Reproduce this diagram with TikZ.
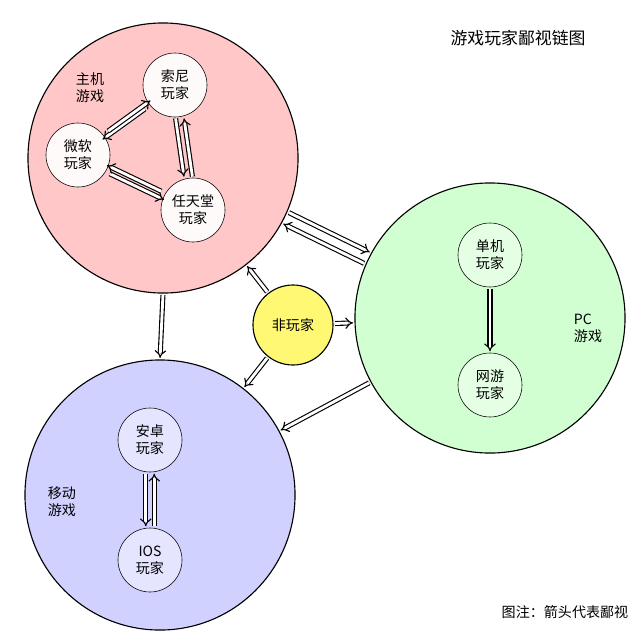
\documentclass[tikz,border=0pt]{standalone}
\usepackage{fontspec}
\setmainfont{Noto Sans CJK SC}
\usetikzlibrary{arrows.meta}
\tikzset{
  big/.style={circle, draw=black, thick, minimum size=6.75cm},
  small/.style={circle, draw=black, fill=white!92!pink, minimum size=1.6cm, inner sep=0pt, align=center},
  dbl/.style={draw=black, double=white, double distance=2pt, thick, -{Implies[length=4pt]}, shorten >=1pt, shorten <=1pt}
}
\begin{document}
\begin{tikzpicture}[x=0.025cm, y=-0.025cm]
\useasboundingbox (0,0) rectangle (640,640);
\node[big, fill=red!22] (zhuji) at (163,158) {};
\node[big, fill=green!18] (pc) at (490,318) {};
\node[big, fill=blue!18] (yidong) at (160,495) {};
\node[circle, draw=black, thick, fill=yellow!55, minimum size=2cm] (fei) at (293,325) {非玩家};
% host
\node[small] (suoni) at (175,85) {索尼\\玩家};
\node[small] (weiruan) at (78,155) {微软\\玩家};
\node[small] (rentian) at (193,210) {任天堂\\玩家};
\node[small, fill=white!90!green] (danji) at (490,255) {单机\\玩家};
\node[small, fill=white!90!green] (wangyou) at (490,385) {网游\\玩家};
\node[small, fill=white!90!blue] (anzhuo) at (150,440) {安卓\\玩家};
\node[small, fill=white!90!blue] (ios) at (150,560) {IOS\\玩家};
% labels
\node[align=left] (lzhuji) at (90,88) {主机\\游戏};
\node[align=left] (lpc) at (588,328) {PC\\游戏};
\node[align=left] (lyidong) at (62,502) {移动\\游戏};
\node[font=\large] (title) at (518,38) {游戏玩家鄙视链图};
\node (note) at (565,612) {图注：箭头代表鄙视};
% arrows inside
\draw[dbl, transform canvas={xshift=-2pt, yshift=-3pt}] (suoni) -- (weiruan);
\draw[dbl, transform canvas={xshift=2pt, yshift=3pt}] (weiruan) -- (suoni);
\draw[dbl, transform canvas={xshift=-3pt}] (suoni) -- (rentian);
\draw[dbl, transform canvas={xshift=3pt}] (rentian) -- (suoni);
\draw[dbl, transform canvas={xshift=1pt, yshift=-3pt}] (weiruan) -- (rentian);
\draw[dbl, transform canvas={xshift=-1pt, yshift=3pt}] (rentian) -- (weiruan);
\draw[dbl] (danji) -- (wangyou);
\draw[dbl, transform canvas={xshift=-3pt}] (anzhuo) -- (ios);
\draw[dbl, transform canvas={xshift=3pt}] (ios) -- (anzhuo);
% between groups
\draw[dbl, transform canvas={xshift=-2pt, yshift=-4pt}] (pc) -- (zhuji);
\draw[dbl, transform canvas={xshift=2pt, yshift=4pt}] (zhuji) -- (pc);
\draw[dbl] (zhuji.270) -- (yidong.90);
\draw[dbl] (pc) -- (yidong);
\draw[dbl] (fei) -- (zhuji);
\draw[dbl] (fei) -- (pc);
\draw[dbl] (fei) -- (yidong);
\end{tikzpicture}
\end{document}
